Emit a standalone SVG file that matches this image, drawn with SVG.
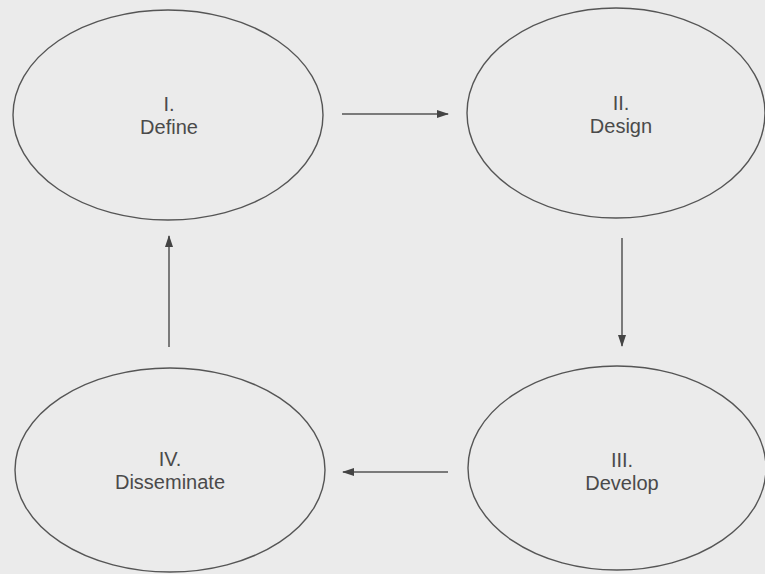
<svg xmlns="http://www.w3.org/2000/svg" width="765" height="574" viewBox="0 0 765 574">
<style>
.node ellipse{fill:none;stroke:#555;stroke-width:1.4}
.node text{font-family:"Liberation Sans",Arial,sans-serif;font-size:20px;fill:#4a4a4a;text-anchor:middle}
.conn line{stroke:#555;stroke-width:1.5;marker-end:url(#ah)}
</style>
<defs>
<marker id="ah" markerWidth="12" markerHeight="8" refX="11" refY="4" orient="auto" markerUnits="userSpaceOnUse">
<path d="M0,0 L12,4 L0,8 Z" fill="#444"/>
</marker>
</defs>
<rect width="765" height="574" fill="#ebebeb"/>
<g id="define" class="node">
<ellipse cx="168" cy="115" rx="155" ry="105"/>
<text x="169" y="111">I.</text>
<text x="169" y="134">Define</text>
</g>
<g id="design" class="node">
<ellipse cx="616" cy="113" rx="149" ry="105"/>
<text x="621" y="110">II.</text>
<text x="621" y="133">Design</text>
</g>
<g id="develop" class="node">
<ellipse cx="617" cy="468" rx="149" ry="102"/>
<text x="622" y="467">III.</text>
<text x="622" y="490">Develop</text>
</g>
<g id="disseminate" class="node">
<ellipse cx="170" cy="470" rx="155" ry="102"/>
<text x="170" y="466">IV.</text>
<text x="170" y="489">Disseminate</text>
</g>
<g id="connectors" class="conn">
<line x1="342" y1="114" x2="448" y2="114"/>
<line x1="622" y1="238" x2="622" y2="346"/>
<line x1="448" y1="472" x2="343" y2="472"/>
<line x1="169" y1="347" x2="169" y2="236"/>
</g>
</svg>
